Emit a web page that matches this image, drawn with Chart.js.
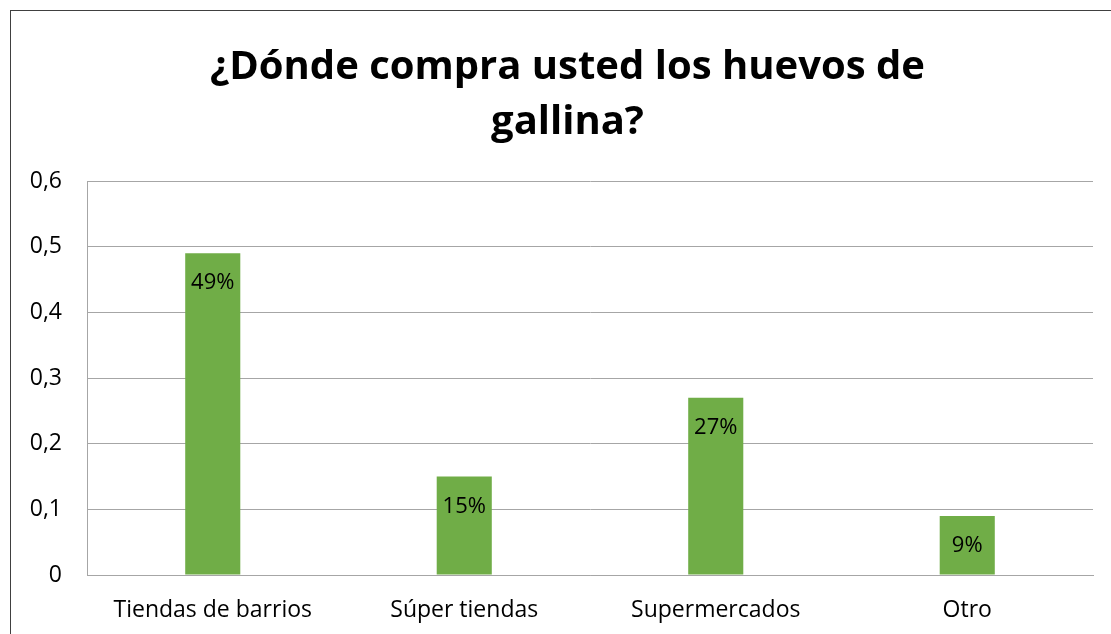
<!DOCTYPE html>
<html>
<head>
<meta charset="utf-8">
<script src="https://cdn.jsdelivr.net/npm/chart.js@4.4.1/dist/chart.umd.min.js"></script>
<style>
  html, body { margin: 0; padding: 0; background: #fff; overflow: hidden; }
  #wrap { position: relative; width: 1111px; height: 634px; overflow: hidden; }
  #frame { position: absolute; left: 10px; top: 10px; width: 1114px; height: 700px;
           border: 1.5px solid #404040; box-sizing: border-box; }
  canvas { position: absolute; left: 0; top: 0; }
</style>
</head>
<body>
<div id="wrap">
  <div id="frame"></div>
  <canvas id="migrafica" width="1135" height="634"></canvas>
</div>
<script>
const titulo = ["¿Dónde compra usted los huevos de", "gallina?"];
const lugares = ["Tiendas de barrios", "Súper tiendas", "Supermercados", "Otro"];
const porcentajes = [0.49, 0.15, 0.27, 0.09];
const yTicks = [0, 0.1, 0.2, 0.3, 0.4, 0.5, 0.6];

const fuente = "'Open Sans', Lato, sans-serif";

// etiquetas de porcentaje dentro de la barra, cerca del borde superior
const etiquetas = {
  id: "etiquetas",
  afterDatasetsDraw(chart) {
    const ctx = chart.ctx;
    const meta = chart.getDatasetMeta(0);
    ctx.save();
    ctx.font = "22px " + fuente;
    ctx.fillStyle = "#000";
    ctx.textAlign = "center";
    ctx.textBaseline = "middle";
    meta.data.forEach((bar, i) => {
      const v = chart.data.datasets[0].data[i];
      ctx.fillText(Math.round(v * 100) + "%", bar.x, bar.y + 30);
    });
    ctx.restore();
  }
};

const config = {
  type: "bar",
  data: {
    labels: lugares,
    datasets: [{
      data: porcentajes,
      backgroundColor: "#70AD47",
      barPercentage: 1,
      categoryPercentage: 0.219
    }]
  },
  options: {
    responsive: false,
    animation: false,
    layout: { padding: 0 },
    plugins: {
      legend: { display: false },
      tooltip: { enabled: false },
      title: {
        display: true,
        text: titulo,
        color: "#000",
        font: { family: fuente, size: 40, weight: "bold", lineHeight: 1.375 },
        padding: { top: 40, bottom: 31 }
      }
    },
    scales: {
      x: {
        grid: { display: false, drawTicks: false },
        border: { color: "#A6A6A6", width: 1 },
        ticks: { color: "#000", font: { family: fuente, size: 23 }, padding: 22, maxRotation: 0 },
        afterFit(scale) { scale.height = 59; }
      },
      y: {
        min: 0,
        max: 0.6,
        afterBuildTicks(scale) { scale.ticks = yTicks.map(v => ({ value: v })); },
        grid: { color: "#A6A6A6", drawTicks: false },
        border: { color: "#A6A6A6", width: 1 },
        ticks: {
          color: "#000",
          font: { family: fuente, size: 23 },
          padding: 25,
          callback: v => String(Math.round(v * 10) / 10).replace(".", ",")
        },
        afterFit(scale) { scale.width = 87; }
      },
      // margen derecho vacío del área de trazado
      margen: {
        type: "linear",
        position: "right",
        min: 0,
        max: 0.6,
        grid: { display: false, drawTicks: false },
        border: { display: false },
        ticks: { display: false },
        afterFit(scale) { scale.width = 42; }
      }
    }
  },
  plugins: [etiquetas]
};

const ctx = document.getElementById("migrafica").getContext("2d");
window.myBar = new Chart(ctx, config);
</script>
</body>
</html>
